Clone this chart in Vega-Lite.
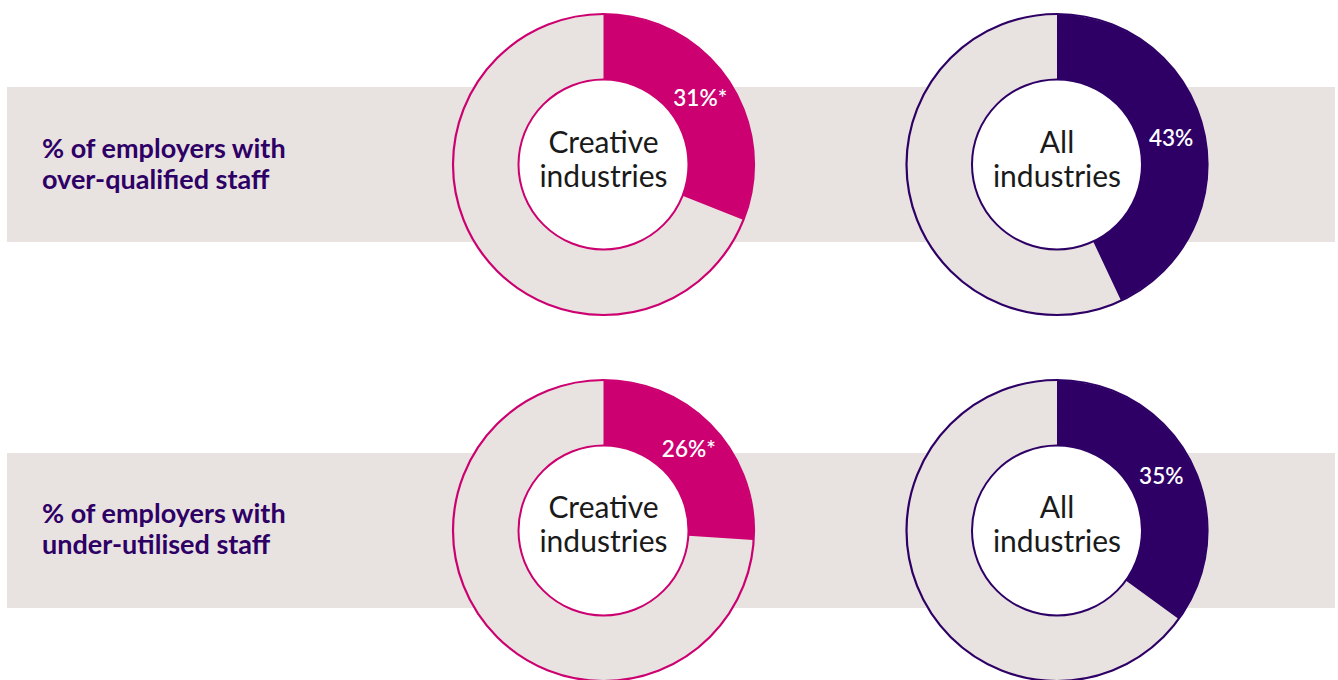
{
  "$schema": "https://vega.github.io/schema/vega-lite/v6.json",
  "width": 1328,
  "height": 680,
  "autosize": {"type": "none"},
  "padding": {"left": 7, "right": 3, "top": 0, "bottom": 0},
  "background": "white",
  "config": {"view": {"stroke": null}},
  "datasets": {
    "shares": [
      {"measure": "over-qualified", "column": "Creative industries", "value": 31, "label": "31%*"},
      {"measure": "over-qualified", "column": "All industries", "value": 43, "label": "43%"},
      {"measure": "under-utilised", "column": "Creative industries", "value": 26, "label": "26%*"},
      {"measure": "under-utilised", "column": "All industries", "value": 35, "label": "35%"}
    ],
    "measures": [
      {"measure": "over-qualified", "column": "Measure", "text": "% of employers with\nover-qualified staff"},
      {"measure": "under-utilised", "column": "Measure", "text": "% of employers with\nunder-utilised staff"}
    ]
  },
  "encoding": {
    "y": {
      "field": "measure", "type": "nominal", "axis": null,
      "scale": {"type": "band", "domain": ["over-qualified", "under-utilised"], "range": [87, 608], "paddingInner": 0.5765, "paddingOuter": 0}
    }
  },
  "resolve": {"scale": {"theta": "independent"}},
  "layer": [
    {
      "data": {"name": "measures"},
      "mark": {"type": "rect", "fill": "#E8E3E0"},
      "encoding": {}
    },
    {
      "data": {"name": "measures"},
      "mark": {"type": "text", "align": "left", "baseline": "middle", "lineBreak": "\n", "font": "Lato", "fontWeight": "bold", "fontSize": 27, "lineHeight": 31, "fill": "#2E0066", "dy": -15},
      "encoding": {
        "x": {"field": "column", "type": "nominal", "bandPosition": 0, "axis": null,
          "scale": {"type": "band", "domain": ["Measure", "Creative industries", "All industries"], "range": [35, 1158], "paddingInner": 0.5237, "paddingOuter": 0}},
        "text": {"field": "text", "type": "nominal"}
      }
    },
    {
      "data": {"name": "shares"},
      "mark": {"type": "arc", "outerRadius": 150, "innerRadius": 85, "theta": 0, "theta2": 6.2832, "fill": "#E8E3E0"},
      "encoding": {
        "x": {"field": "column", "type": "nominal", "axis": null}
      }
    },
    {
      "data": {"name": "shares"},
      "transform": [{"stack": "value", "groupby": ["measure", "column"], "as": ["v0", "v1"]}],
      "mark": {"type": "arc", "outerRadius": 150, "innerRadius": 85},
      "encoding": {
        "x": {"field": "column", "type": "nominal", "axis": null},
        "theta": {"field": "v0", "type": "quantitative", "scale": {"domain": [0, 100]}},
        "theta2": {"field": "v1"},
        "fill": {"field": "column", "type": "nominal", "legend": null,
          "scale": {"domain": ["Creative industries", "All industries"], "range": ["#CC0070", "#2E0066"]}}
      }
    },
    {
      "data": {"name": "shares"},
      "mark": {"type": "arc", "outerRadius": 150.5, "innerRadius": 0, "theta": 0, "theta2": 6.2832, "fillOpacity": 0, "strokeWidth": 2.2},
      "encoding": {
        "x": {"field": "column", "type": "nominal", "axis": null},
        "stroke": {"field": "column", "type": "nominal", "legend": null,
          "scale": {"domain": ["Creative industries", "All industries"], "range": ["#CC0070", "#2E0066"]}}
      }
    },
    {
      "data": {"name": "shares"},
      "mark": {"type": "arc", "outerRadius": 85, "innerRadius": 0, "theta": 0, "theta2": 6.2832, "fill": "white", "strokeWidth": 2},
      "encoding": {
        "x": {"field": "column", "type": "nominal", "axis": null},
        "stroke": {"field": "column", "type": "nominal", "legend": null}
      }
    },
    {
      "data": {"name": "shares"},
      "mark": {"type": "text", "align": "center", "baseline": "middle", "lineBreak": " ", "font": "Lato", "fontWeight": 400, "fontSize": 30, "lineHeight": 34, "fill": "#1A1A1A", "dy": -21},
      "encoding": {
        "x": {"field": "column", "type": "nominal", "axis": null},
        "text": {"field": "column", "type": "nominal"}
      }
    },
    {
      "data": {"name": "shares"},
      "mark": {"type": "text", "align": "center", "baseline": "middle", "radius": 117, "font": "Lato", "fontWeight": 600, "fontSize": 22.5, "fill": "white"},
      "encoding": {
        "x": {"field": "column", "type": "nominal", "axis": null},
        "theta": {"field": "value", "type": "quantitative", "stack": null, "scale": {"domain": [0, 200]}},
        "text": {"field": "label", "type": "nominal"}
      }
    }
  ]
}
